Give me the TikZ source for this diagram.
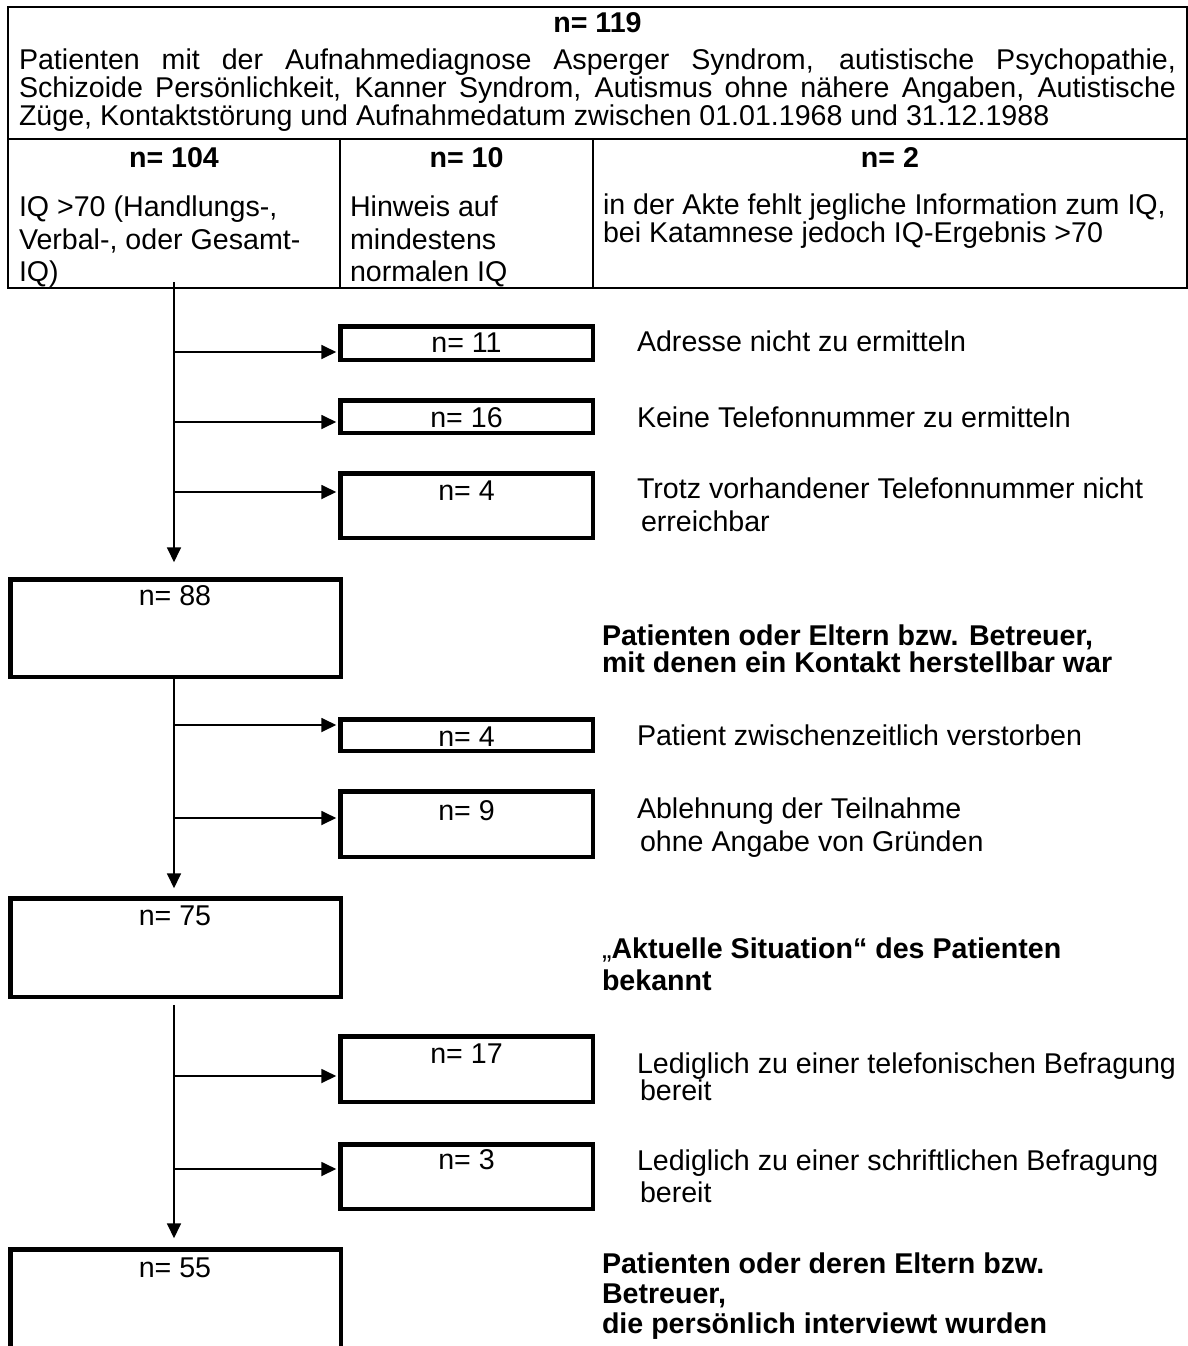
\documentclass[tikz,border=0pt]{standalone}
\usepackage{fontspec}
\setmainfont{Liberation Sans}
\usetikzlibrary{arrows.meta}
\begin{document}
\begin{tikzpicture}[x=1pt,y=-1pt,
  every node/.style={font=\fontsize{28.6}{32}\selectfont, inner sep=0pt, outer sep=0pt},
  tcell/.style={draw, line width=1.8pt, rectangle, anchor=north west},
  sbox/.style={draw, line width=4.5pt, rectangle, anchor=north west, minimum width=252.5pt},
  mbox/.style={draw, line width=4.5pt, rectangle, anchor=north west, minimum width=330.5pt},
  txt/.style={anchor=base west},
  ctxt/.style={anchor=base},
  conn/.style={line width=1.8pt},
  arr/.style={conn, -{Triangle[length=15pt,width=14pt]}}
]
\useasboundingbox (0,0) rectangle (1188,1346);
\fill[white] (0,0) rectangle (1188,1346);
\clip (0,0) rectangle (1188,1346);

% ---------- table ----------
\node[tcell, minimum width=1179pt, minimum height=132pt] (top) at (8,7) {};
\node[tcell, minimum width=332pt, minimum height=149pt] (c1) at (8,139) {};
\node[tcell, minimum width=253pt, minimum height=149pt] (c2) at (340,139) {};
\node[tcell, minimum width=594pt, minimum height=149pt] (c3) at (593,139) {};

\node[ctxt] (h119) at (597.5,33) {\bfseries n= 119};
\node[txt] (p1) at (19,70) {\makebox[1157pt][s]{Patienten mit der Aufnahmediagnose Asperger Syndrom, autistische Psychopathie,}};
\node[txt] (p2) at (19,97.5) {\makebox[1157pt][s]{Schizoide Persönlichkeit, Kanner Syndrom, Autismus ohne nähere Angaben, Autistische}};
\node[txt] (p3) at (19,125) {Züge, Kontaktstörung und Aufnahmedatum zwischen 01.01.1968 und 31.12.1988};

\node[ctxt] (h104) at (174,167) {\bfseries n= 104};
\node[ctxt] (h10) at (466.5,167) {\bfseries n= 10};
\node[ctxt] (h2) at (890,167) {\bfseries n= 2};

\node[txt] (a1) at (19,216.5) {IQ >70 (Handlungs-,};
\node[txt] (a2) at (19,249) {Verbal-, oder Gesamt-};
\node[txt] (a3) at (19,281) {IQ)};
\node[txt] (b1t) at (350,216.5) {Hinweis auf};
\node[txt] (b2t) at (350,249) {mindestens};
\node[txt] (b3t) at (350,281) {normalen IQ};
\node[txt] (d1) at (603,214) {in der Akte fehlt jegliche Information zum IQ,};
\node[txt] (d2) at (603,242) {bei Katamnese jedoch IQ-Ergebnis >70};

% ---------- side boxes ----------
\node[sbox, minimum height=33.5pt] (n11) at (340.25,326.25) {};
\node[sbox, minimum height=32.5pt] (n16) at (340.25,400.25) {};
\node[sbox, minimum height=64.5pt] (n4a) at (340.25,473.25) {};
\node[sbox, minimum height=31.5pt] (n4b) at (340.25,719.25) {};
\node[sbox, minimum height=65.5pt] (n9) at (340.25,791.25) {};
\node[sbox, minimum height=65.5pt] (n17) at (340.25,1036.25) {};
\node[sbox, minimum height=64.5pt] (n3) at (340.25,1144.25) {};

\node[ctxt] (n11t) at (466.5,352) {n= 11};
\node[ctxt] (n16t) at (466.5,427) {n= 16};
\node[ctxt] (n4at) at (466.5,500) {n= 4};
\node[ctxt] (n4bt) at (466.5,746) {n= 4};
\node[ctxt] (n9t) at (466.5,820) {n= 9};
\node[ctxt] (n17t) at (466.5,1063) {n= 17};
\node[ctxt] (n3t) at (466.5,1169) {n= 3};

% ---------- main boxes ----------
\node[mbox, minimum height=97.5pt] (n88) at (10.25,579.25) {};
\node[mbox, minimum height=98.5pt] (n75) at (10.25,898.25) {};
\node[mbox, minimum height=200pt] (n55) at (10.25,1249.25) {};
\node[ctxt] (n88t) at (175,605) {n= 88};
\node[ctxt] (n75t) at (175,925) {n= 75};
\node[ctxt] (n55t) at (175,1277) {n= 55};

% ---------- side texts ----------
\node[txt] (r1) at (637,351) {Adresse nicht zu ermitteln};
\node[txt] (r2) at (637,427) {Keine Telefonnummer zu ermitteln};
\node[txt] (r3a) at (637,498) {Trotz vorhandener Telefonnummer nicht};
\node[txt] (r3b) at (641,531) {erreichbar};
\node[txt] (k1a) at (602,645) {\bfseries Patienten oder Eltern bzw. Betreuer,};
\node[txt] (k1b) at (602,672) {\bfseries mit denen ein Kontakt herstellbar war};
\node[txt] (r4) at (637,745) {Patient zwischenzeitlich verstorben};
\node[txt] (r5a) at (637,818) {Ablehnung der Teilnahme};
\node[txt] (r5b) at (640,851) {ohne Angabe von Gründen};
\node[txt] (k2a) at (602,958) {„\bfseries Aktuelle Situation“ des Patienten};
\node[txt] (k2b) at (602,990) {\bfseries bekannt};
\node[txt] (r6a) at (637,1073) {Lediglich zu einer telefonischen Befragung};
\node[txt] (r6b) at (640,1100) {bereit};
\node[txt] (r7a) at (637,1170) {Lediglich zu einer schriftlichen Befragung};
\node[txt] (r7b) at (640,1202) {bereit};
\node[txt] (k3a) at (602,1273) {\bfseries Patienten oder deren Eltern bzw.};
\node[txt] (k3b) at (602,1303) {\bfseries Betreuer,};
\node[txt] (k3c) at (602,1333) {\bfseries die persönlich interviewt wurden};

% ---------- connectors ----------
\draw[arr, shorten <=-6pt, shorten >=17pt] (c1.south) -- (c1.south |- n88.north);
\draw[arr, shorten >=10pt] (c1.south |- n88.south) -- (c1.south |- n75.north);
\draw[arr, shorten <=8pt, shorten >=11pt] (c1.south |- n75.south) -- (c1.south |- n55.north);

\coordinate (br1) at (174,352);
\coordinate (br2) at (174,422);
\coordinate (br3) at (174,492);
\coordinate (br4) at (174,725);
\coordinate (br5) at (174,818);
\coordinate (br6) at (174,1076);
\coordinate (br7) at (174,1169);
\draw[arr, shorten >=4pt] (br1) -- (br1 -| n11.west);
\draw[arr, shorten >=4pt] (br2) -- (br2 -| n16.west);
\draw[arr, shorten >=4pt] (br3) -- (br3 -| n4a.west);
\draw[arr, shorten >=4pt] (br4) -- (br4 -| n4b.west);
\draw[arr, shorten >=4pt] (br5) -- (br5 -| n9.west);
\draw[arr, shorten >=4pt] (br6) -- (br6 -| n17.west);
\draw[arr, shorten >=4pt] (br7) -- (br7 -| n3.west);
\end{tikzpicture}
\end{document}
